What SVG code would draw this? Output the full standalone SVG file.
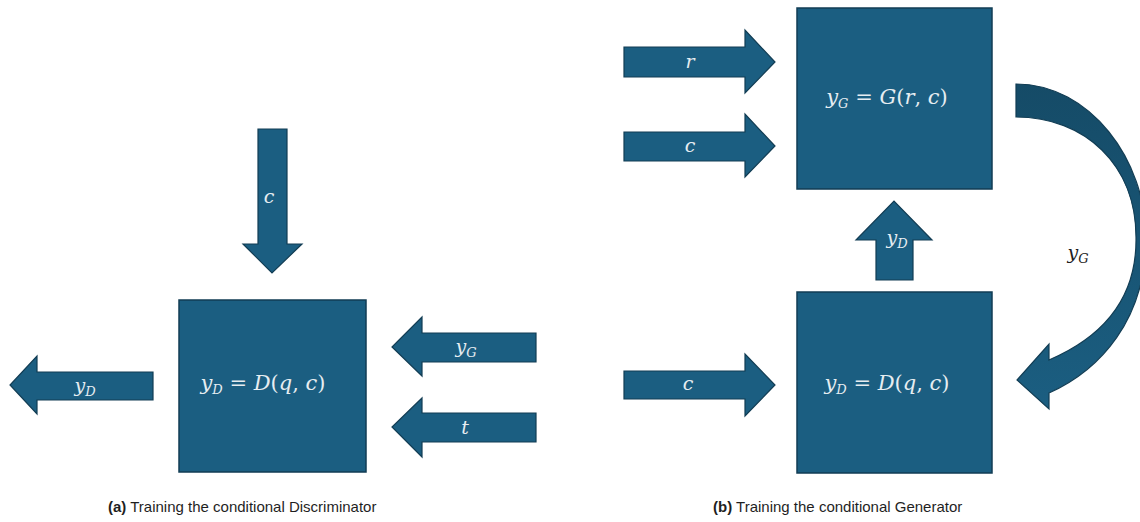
<svg xmlns="http://www.w3.org/2000/svg" width="1140" height="522" viewBox="0 0 1140 522">
  <style>
    .blk { fill: #1b5e81; stroke: #123d54; stroke-width: 1.5; }
    .arr { fill: #1b5e81; stroke: #123d54; stroke-width: 1.2; stroke-linejoin: miter; }
    .m { font-family: "DejaVu Serif", "Liberation Serif", serif; fill: #e6edf1; text-anchor: middle; }
    .big { font-size: 21px; }
    .lab { font-size: 19px; }
    .it { font-style: italic; }
    .sub { font-style: italic; font-size: 13px; }
    .dark { fill: #1f1f1f; }
    .cap { font-family: "Liberation Sans", Arial, sans-serif; font-size: 15px; fill: #1f1f1f; }
    .capb { font-weight: bold; }
  </style>
  <defs>
    <linearGradient id="curveFill" x1="0" y1="0" x2="0" y2="1">
      <stop offset="0" stop-color="#154b67"/>
      <stop offset="1" stop-color="#1b5e81"/>
    </linearGradient>
  </defs>
  <rect width="1140" height="522" fill="#ffffff"/>

  <!-- (a) discriminator training -->
  <g id="disc-a">
    <rect class="blk" x="179" y="300" width="187" height="172"/>
    <text class="m big" x="263" y="390"><tspan class="it">y</tspan><tspan class="sub" dy="4">D</tspan><tspan dy="-4"> = </tspan><tspan class="it">D</tspan>(<tspan class="it">q</tspan>, <tspan class="it">c</tspan>)</text>
  </g>

  <!-- (b) generator training -->
  <g id="gen-b">
    <rect class="blk" x="797" y="8" width="195" height="181"/>
    <text class="m big" x="887" y="104"><tspan class="it">y</tspan><tspan class="sub" dy="4">G</tspan><tspan dy="-4"> = </tspan><tspan class="it">G</tspan>(<tspan class="it">r</tspan>, <tspan class="it">c</tspan>)</text>
  </g>
  <g id="disc-b">
    <rect class="blk" x="797" y="292" width="195" height="181"/>
    <text class="m big" x="887" y="390"><tspan class="it">y</tspan><tspan class="sub" dy="4">D</tspan><tspan dy="-4"> = </tspan><tspan class="it">D</tspan>(<tspan class="it">q</tspan>, <tspan class="it">c</tspan>)</text>
  </g>

  <g id="connectors">
    <!-- block arrows, panel (a) -->
    <g id="a-c">
      <polygon class="arr" points="258,129 287,129 287,244 302,244 272,273 243,244 258,244"/>
      <text class="m lab it" x="269" y="203">c</text>
    </g>
    <g id="a-yD">
      <polygon class="arr" points="153,372 153,400 37,400 37,414 10,385 37,356 37,372"/>
      <text class="m lab" x="85" y="392"><tspan class="it">y</tspan><tspan class="sub" dy="4">D</tspan></text>
    </g>
    <g id="a-yG">
      <polygon class="arr" points="536,333 536,362 422,362 422,376 392,347 422,317 422,333"/>
      <text class="m lab" x="466" y="353"><tspan class="it">y</tspan><tspan class="sub" dy="4">G</tspan></text>
    </g>
    <g id="a-t">
      <polygon class="arr" points="536,413 536,442 422,442 422,457 392,427 422,398 422,413"/>
      <text class="m lab it" x="465" y="434">t</text>
    </g>

    <!-- block arrows, panel (b) -->
    <g id="b-r">
      <polygon class="arr" points="624,47 745,47 745,30 775,62 745,93 745,77 624,77"/>
      <text class="m lab it" x="690" y="68">r</text>
    </g>
    <g id="b-c1">
      <polygon class="arr" points="624,132 745,132 745,114 775,146 745,177 745,161 624,161"/>
      <text class="m lab it" x="690" y="152">c</text>
    </g>
    <g id="b-c2">
      <polygon class="arr" points="624,371 745,371 745,354 775,385 745,416 745,399 624,399"/>
      <text class="m lab it" x="688" y="390">c</text>
    </g>
    <g id="b-yD">
      <polygon class="arr" points="876,280 913,280 913,240 932,240 894,201 856,240 876,240"/>
      <text class="m lab" x="897" y="244"><tspan class="it">y</tspan><tspan class="sub" dy="4">D</tspan></text>
    </g>
    <g id="b-yG">
      <path class="arr" style="fill:url(#curveFill)" d="M1016,84 C1090,84 1146,160 1146,238 C1146,320 1100,370 1049,393 L1049,409 L1017,380 L1049,344 L1049,360 C1112,333 1137,290 1136,237 C1136,165 1085,117 1016,117 Z"/>
      <text class="m lab dark" x="1078" y="259"><tspan class="it">y</tspan><tspan class="sub" dy="4">G</tspan></text>
    </g>
  </g>

  <!-- captions -->
  <text class="cap" x="108" y="512"><tspan class="capb">(a)</tspan> Training the conditional Discriminator</text>
  <text class="cap" x="713" y="512"><tspan class="capb">(b)</tspan> Training the conditional Generator</text>
</svg>
